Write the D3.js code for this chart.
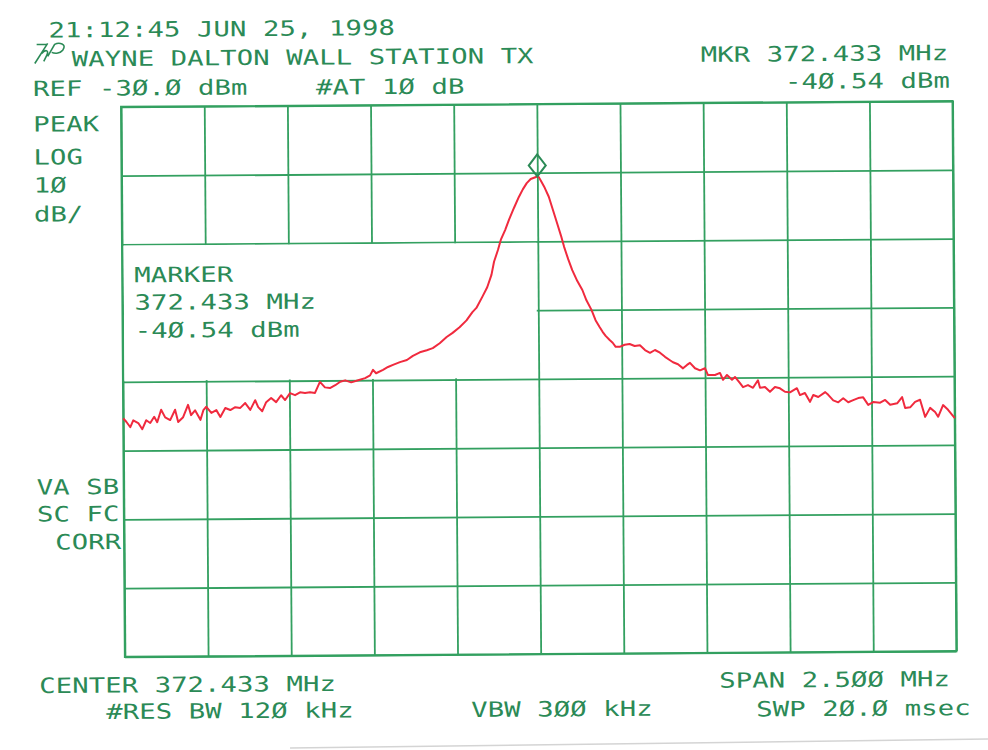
<!DOCTYPE html>
<html>

<head>
    <meta charset="utf-8">
    <style>
        body {
            margin: 0;
            background: #fff;
        }

        svg {
            display: block;
        }

        .label {
            font-family: 'DejaVu Sans Mono', monospace;
            font-size: 21px;
            letter-spacing: 0.05px;
            fill: #2b8a56;
        }
    </style>
</head>

<body>
    <svg width="988" height="750"></svg>
</body>

<script src="https://d3js.org/d3.v7.min.js"></script>

<script>
    // analyzer settings
    let centerMHz = 372.433
    let spanMHz = 2.5
    let refDbm = -30
    let dbPerDiv = 10
    let xDivs = 10
    let yDivs = 8

    let markerMHz = 372.433
    let markerDbm = -40.54

    // trace
    let freqMHz = [
        371.183, 371.192, 371.204, 371.213, 371.228, 371.240, 371.252, 371.264, 371.276, 371.285,
        371.297, 371.309, 371.324, 371.339, 371.348, 371.363, 371.378, 371.387, 371.399, 371.415,
        371.424, 371.433, 371.448, 371.463, 371.475, 371.490, 371.505, 371.520, 371.535, 371.550,
        371.565, 371.580, 371.589, 371.601, 371.613, 371.628, 371.643, 371.658, 371.670, 371.685,
        371.700, 371.715, 371.730, 371.745, 371.760, 371.775, 371.790, 371.805, 371.821, 371.836,
        371.851, 371.869, 371.890, 371.911, 371.926, 371.935, 371.944, 371.965, 371.980, 371.995,
        372.016, 372.037, 372.055, 372.076, 372.097, 372.115, 372.136, 372.157, 372.175, 372.196,
        372.217, 372.235, 372.247, 372.265, 372.280, 372.293, 372.301, 372.313, 372.322, 372.335,
        372.347, 372.362, 372.377, 372.389, 372.401, 372.413, 372.433, 372.437, 372.446, 372.455,
        372.467, 372.479, 372.491, 372.503, 372.512, 372.524, 372.536, 372.551, 372.566, 372.578,
        372.593, 372.605, 372.617, 372.626, 372.635, 372.647, 372.656, 372.665, 372.677, 372.692,
        372.707, 372.722, 372.738, 372.753, 372.768, 372.783, 372.798, 372.813, 372.828, 372.837,
        372.852, 372.867, 372.879, 372.888, 372.903, 372.918, 372.933, 372.942, 372.963, 372.978,
        372.987, 372.999, 373.014, 373.023, 373.038, 373.047, 373.062, 373.077, 373.092, 373.098,
        373.113, 373.128, 373.143, 373.158, 373.173, 373.188, 373.209, 373.218, 373.233, 373.248,
        373.258, 373.273, 373.294, 373.303, 373.318, 373.333, 373.348, 373.363, 373.378, 373.393,
        373.408, 373.423, 373.438, 373.459, 373.474, 373.489, 373.510, 373.525, 373.534, 373.549,
        373.564, 373.579, 373.594, 373.609, 373.624, 373.633, 373.648, 373.663, 373.683
    ]

    let levelDbm = [
        -75.3, -75.8, -76.6, -75.6, -76.0, -76.9, -75.6, -76.0, -75.1, -75.9,
        -74.1, -75.2, -75.6, -74.1, -75.9, -75.2, -73.4, -74.9, -74.2, -75.6,
        -74.2, -73.7, -74.6, -74.2, -75.2, -73.9, -74.2, -73.8, -73.9, -73.2,
        -74.2, -72.8, -73.8, -74.4, -73.1, -72.5, -73.1, -72.1, -72.8, -71.8,
        -72.1, -71.7, -71.8, -71.7, -71.8, -70.2, -71.0, -71.1, -70.7, -70.2,
        -70.0, -70.3, -70.0, -69.7, -69.3, -68.5, -69.0, -68.5, -68.1, -67.8,
        -67.4, -67.1, -66.5, -66.0, -65.7, -65.4, -64.7, -63.8, -63.2, -62.4,
        -61.4, -60.2, -59.6, -58.0, -56.6, -54.8, -52.9, -51.2, -49.7, -48.3,
        -46.8, -45.1, -43.5, -42.4, -41.5, -40.9, -40.54, -40.6, -41.4, -42.2,
        -43.5, -45.4, -47.3, -49.2, -50.8, -52.6, -54.2, -55.8, -57.1, -58.6,
        -60.0, -61.5, -62.5, -63.2, -63.8, -64.4, -64.8, -65.4, -65.4, -65.1,
        -65.0, -65.3, -65.2, -65.9, -66.3, -65.9, -66.3, -66.9, -67.4, -67.7,
        -68.0, -68.6, -68.1, -67.8, -68.6, -68.9, -68.6, -69.6, -69.6, -69.3,
        -70.3, -69.6, -70.3, -69.9, -70.8, -71.4, -71.1, -71.5, -70.4, -71.5,
        -71.4, -72.1, -71.4, -71.6, -72.1, -72.2, -71.6, -72.6, -72.3, -73.6,
        -72.6, -72.9, -72.2, -72.6, -73.4, -73.7, -73.1, -73.7, -73.4, -73.1,
        -73.0, -74.1, -73.7, -73.8, -73.4, -74.1, -73.9, -73.0, -74.6, -74.5,
        -73.7, -73.4, -75.9, -74.6, -75.2, -75.9, -74.2, -74.9, -76.1
    ]

    // annotation text printed by the plotter
    let headerText = ["21:12:45 JUN 25, 1998", "WAYNE DALTON WALL STATION TX", "REF -3Ø.Ø dBm", "#AT 1Ø dB"]
    let markerHeadText = ["MKR 372.433 MHz", "-4Ø.54 dBm"]
    let scaleText = ["PEAK", "LOG", "1Ø", "dB/"]
    let markerBoxText = ["MARKER", "372.433 MHz", "-4Ø.54 dBm"]
    let flagText = ["VA SB", "SC FC", "CORR"]
    let footerText = ["CENTER 372.433 MHz", "#RES BW 12Ø kHz", "VBW 3ØØ kHz", "SPAN 2.5ØØ MHz", "SWP 2Ø.Ø msec"]

    let trace = freqMHz.map((f, i) => ({ f: f, db: levelDbm[i] }))

    let gridColor = "#33a060"
    let textColor = "#2b8a56"

    let svg = d3.select("svg")

    // plotter sheet sits a little askew on the scan
    let page = svg.append("g")
        .attr("transform", "rotate(-0.4, 538.75, 379)")

    let x = d3.scaleLinear()
        .domain([centerMHz - spanMHz / 2, centerMHz + spanMHz / 2])
        .range([123, 954.5])

    let y = d3.scaleLinear()
        .domain([refDbm, refDbm - dbPerDiv * yDivs])
        .range([104, 654])

    let xLines = d3.range(xDivs + 1).map(i => centerMHz - spanMHz / 2 + i * spanMHz / xDivs)
    let yLines = d3.range(yDivs + 1).map(i => refDbm - i * dbPerDiv)

    let xAxis = d3.axisBottom(x)
        .tickValues(xLines)
        .tickSize(-(y.range()[1] - y.range()[0]))
        .tickFormat("")

    let yAxis = d3.axisLeft(y)
        .tickValues(yLines)
        .tickSize(-(x.range()[1] - x.range()[0]))
        .tickFormat("")

    let gx = page.append("g")
        .attr("transform", `translate(0,${y.range()[1]})`)
        .call(xAxis)

    let gy = page.append("g")
        .attr("transform", `translate(${x.range()[0]},0)`)
        .call(yAxis)

    page.selectAll(".domain").remove()
    page.selectAll(".tick line")
        .style("stroke", gridColor)
        .style("stroke-width", "1.8px")

    // outer frame a touch heavier
    page.append("rect")
        .attr("x", x.range()[0])
        .attr("y", y.range()[0])
        .attr("width", x.range()[1] - x.range()[0])
        .attr("height", y.range()[1] - y.range()[0])
        .style("fill", "none")
        .style("stroke", gridColor)
        .style("stroke-width", "2.1px")

    // the marker readout blanks part of the graticule
    let x0 = x.range()[0]
    let xm = x(markerMHz)
    page.append("rect")
        .attr("x", x0 + 1.5)
        .attr("y", y(refDbm - 2 * dbPerDiv) + 1.2)
        .attr("width", xm - x0 - 3)
        .attr("height", y(refDbm - 4 * dbPerDiv) - y(refDbm - 2 * dbPerDiv) - 2.4)
        .style("fill", "#fff")

    let line = d3.line()
        .x(d => x(d.f))
        .y(d => y(d.db))

    page.append("path")
        .datum(trace)
        .attr("d", line)
        .style("fill", "none")
        .style("stroke", "#f02a3e")
        .style("stroke-width", "2px")
        .style("stroke-linejoin", "round")

    // diamond marker sitting on the peak
    let mx = x(markerMHz)
    let my = y(markerDbm)
    page.append("path")
        .attr("d", `M${mx},${my} L${mx - 8.5},${my - 11} L${mx},${my - 22} L${mx + 8.5},${my - 11} Z`)
        .style("fill", "none")
        .style("stroke", textColor)
        .style("stroke-width", "2px")

    // plotter glyphs are wide and square, so stretch the mono font sideways
    function addLines(list, xs, ys) {
        page.append("g")
            .selectAll("text")
            .data(list)
            .join("text")
            .attr("class", "label")
            .attr("transform", (d, i) => `translate(${xs[i]},${ys[i]}) scale(1.3,1)`)
            .text(d => d)
    }

    addLines(headerText, [51, 74, 35, 318], [34, 63, 92.5, 93])
    addLines(markerHeadText, [703, 787], [63, 90.5])
    addLines(scaleText, [35, 35, 35, 35], [128, 161, 189, 218])
    addLines(markerBoxText, [135, 135, 135], [279.5, 307, 335])
    addLines(flagText, [36, 36, 54], [491, 518, 546])
    addLines(footerText, [37, 104, 469, 717, 754], [689.5, 716, 716.5, 689, 718])

    // hp logo scribble before the title
    let logo = page.append("g")
        .attr("transform", "translate(37,60)")
    logo.append("path")
        .attr("d", "M0,0 L13,-20 M7,-10 C10,-14 15,-14 12,-8 L9,-2 M13,-7 L20,-19 C24,-21 33,-20 28,-13 C25,-9 19,-10 17,-11 M2,-19 L12,-19")
        .style("fill", "none")
        .style("stroke", textColor)
        .style("stroke-width", "1.6px")

    // faint edge of the scanned sheet
    svg.append("line")
        .attr("x1", 290)
        .attr("y1", 748)
        .attr("x2", 988)
        .attr("y2", 739)
        .style("stroke", "#d4d4d4")
        .style("stroke-width", "1.5px")
</script>

</html>
